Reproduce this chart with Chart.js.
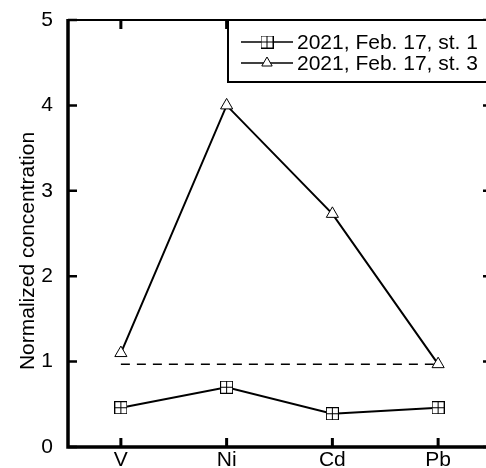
<!DOCTYPE html>
<html>
<head>
<meta charset="utf-8">
<script src="https://cdn.jsdelivr.net/npm/chart.js@4/dist/chart.umd.min.js"></script>
<style>
  html, body { margin: 0; padding: 0; background: #fff; overflow: hidden; }
  #wrap { width: 486px; height: 468px; overflow: hidden; }
  canvas { display: block; }
</style>
</head>
<body>
<div id="wrap"><canvas id="chart" width="500" height="468"></canvas></div>
<script>
// data
const categories = ['V', 'Ni', 'Cd', 'Pb'];
const station1 = [0.46, 0.70, 0.39, 0.46];
const station3 = [1.10, 4.00, 2.73, 0.97];
const refLevel = [0.97, 0.97, 0.97, 0.97];
const seriesLabels = ['2021, Feb. 17, st. 1', '2021, Feb. 17, st. 3'];
const yTitle = 'Normalized concentration';

const FONT = "'Liberation Sans', Arial, sans-serif";
const FONT_SIZE = 21;

// square with a plus inside, used as marker for st. 1
function makeSquareMarker() {
    const c = document.createElement('canvas');
    c.width = 13; c.height = 13;
    const g = c.getContext('2d');
    g.fillStyle = '#fff';
    g.fillRect(0, 0, 13, 13);
    g.strokeStyle = '#000';
    g.lineWidth = 1;
    g.strokeRect(0.5, 0.5, 12, 12);
    g.beginPath();
    g.moveTo(6.5, 0.5); g.lineTo(6.5, 12.5);
    g.moveTo(0.5, 6.5); g.lineTo(12.5, 6.5);
    g.stroke();
    return c;
}
const squareMarker = makeSquareMarker();

// frame, inward ticks, axis title and boxed legend
const decorPlugin = {
    id: 'decor',
    afterDraw(chart) {
        const ctx = chart.ctx;
        const ca = chart.chartArea;
        const xs = chart.scales.x;
        const ys = chart.scales.y;
        ctx.save();
        ctx.strokeStyle = '#000';
        ctx.lineCap = 'butt';

        // frame
        ctx.lineWidth = 3.5;
        ctx.beginPath();
        ctx.moveTo(ca.left, ca.top - 1);
        ctx.lineTo(ca.left, ca.bottom);
        ctx.lineTo(ca.right + 1, ca.bottom);
        ctx.stroke();
        ctx.lineWidth = 2;
        ctx.beginPath();
        ctx.moveTo(ca.left, ca.top);
        ctx.lineTo(ca.right, ca.top);
        ctx.lineTo(ca.right, ca.bottom);
        ctx.stroke();

        // y ticks (left and right, inward)
        ctx.lineWidth = 2.5;
        ys.ticks.forEach(t => {
            const y = ys.getPixelForValue(t.value);
            ctx.beginPath();
            ctx.moveTo(ca.left, y); ctx.lineTo(ca.left + 9, y);
            ctx.moveTo(ca.right, y); ctx.lineTo(ca.right - 8, y);
            ctx.stroke();
        });
        // x ticks (bottom and top, inward)
        ctx.lineWidth = 3;
        categories.forEach((c, i) => {
            const x = xs.getPixelForValue(i);
            ctx.beginPath();
            ctx.moveTo(x, ca.bottom); ctx.lineTo(x, ca.bottom - 9);
            ctx.moveTo(x, ca.top); ctx.lineTo(x, ca.top + 9);
            ctx.stroke();
        });

        // y title
        ctx.fillStyle = '#000';
        ctx.font = FONT_SIZE + 'px ' + FONT;
        ctx.translate(28, 251);
        ctx.rotate(-Math.PI / 2);
        ctx.textAlign = 'center';
        ctx.textBaseline = 'middle';
        ctx.fillText(yTitle, 0, 0);
        ctx.setTransform(1, 0, 0, 1, 0, 0);

        // legend box
        const bx = 228, by = ca.top, bw = 300, bh = 62;
        ctx.fillStyle = '#fff';
        ctx.fillRect(bx, by, bw, bh);
        ctx.lineWidth = 2;
        ctx.strokeRect(bx, by, bw, bh);

        const rows = [
            { ds: chart.data.datasets[0], y: by + 22 },
            { ds: chart.data.datasets[1], y: by + 43 }
        ];
        rows.forEach(r => {
            ctx.lineWidth = 1.5;
            ctx.strokeStyle = '#000';
            ctx.beginPath();
            ctx.moveTo(241, r.y); ctx.lineTo(293, r.y);
            ctx.stroke();
            ctx.fillStyle = '#fff';
            ctx.lineWidth = 1;
            Chart.helpers.drawPoint(ctx, {
                pointStyle: r.ds.pointStyle,
                radius: r.ds.pointStyle === 'triangle' ? 6 : r.ds.pointRadius,
                borderWidth: 1,
                rotation: 0
            }, 267, r.y);
            ctx.fillStyle = '#000';
            ctx.font = FONT_SIZE + 'px ' + FONT;
            ctx.textAlign = 'left';
            ctx.textBaseline = 'middle';
            ctx.fillText(r.ds.label, 297, r.y + 1);
        });
        ctx.restore();
    }
};

new Chart(document.getElementById('chart'), {
    type: 'line',
    data: {
        labels: categories,
        datasets: [
            {
                label: seriesLabels[0],
                data: station1,
                borderColor: '#000',
                borderWidth: 2,
                pointStyle: squareMarker,
                pointRadius: 7,
                pointBackgroundColor: '#fff',
                pointBorderColor: '#000',
                tension: 0
            },
            {
                label: seriesLabels[1],
                data: station3,
                borderColor: '#000',
                borderWidth: 2,
                pointStyle: 'triangle',
                pointRadius: 7,
                pointBorderWidth: 1,
                pointBackgroundColor: '#fff',
                pointBorderColor: '#000',
                tension: 0
            },
            {
                label: 'level',
                data: refLevel,
                borderColor: '#000',
                borderWidth: 1.5,
                borderDash: [9, 7],
                pointRadius: 0,
                order: 5
            }
        ]
    },
    options: {
        responsive: false,
        animation: false,
        devicePixelRatio: 1,
        layout: { padding: { top: 20, right: 7, left: 0, bottom: 0 } },
        plugins: {
            legend: { display: false },
            tooltip: { enabled: false }
        },
        scales: {
            x: {
                type: 'category',
                offset: true,
                grid: { display: false, drawTicks: false },
                border: { display: false },
                ticks: {
                    color: '#000',
                    padding: 1,
                    font: { family: FONT, size: FONT_SIZE }
                },
                afterFit: s => { s.height = 21; s.paddingLeft = 0; s.paddingRight = 0; }
            },
            y: {
                min: 0,
                max: 5,
                grid: { display: false, drawTicks: false },
                border: { display: false },
                ticks: {
                    stepSize: 1,
                    color: '#000',
                    padding: 15,
                    font: { family: FONT, size: FONT_SIZE }
                },
                afterFit: s => { s.width = 68; s.paddingTop = 0; s.paddingBottom = 0; }
            }
        }
    },
    plugins: [decorPlugin]
});
</script>
</body>
</html>
